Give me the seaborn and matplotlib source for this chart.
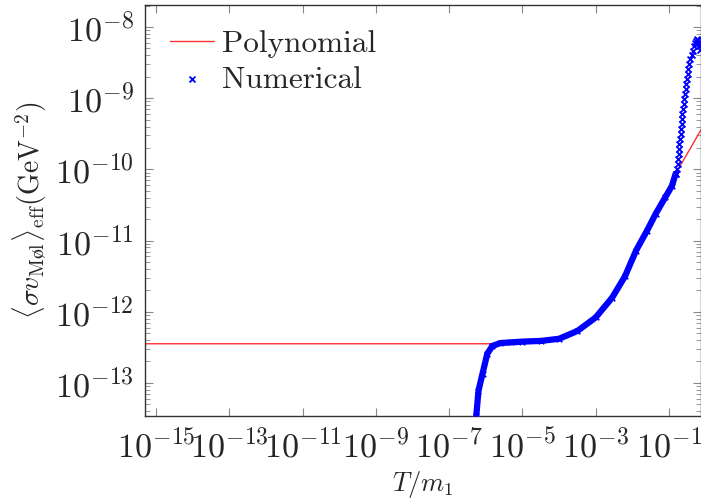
import numpy as np
import pandas as pd
import matplotlib
matplotlib.use('Agg')
import matplotlib.pyplot as plt
import matplotlib.ticker as mticker
import seaborn as sns

# ----------------- data (log10 values) -----------------
poly_logT = [-15.5, -5.8, -5.0, -4.0, -3.5, -3.0, -2.55, -1.9, -1.36, -0.82, -0.1]
poly_logS = [-12.45, -12.45, -12.43, -12.38, -12.27, -12.08, -11.80, -11.14, -10.62, -10.06, -9.42]

# dense part of the numerical points (they merge into a thick band)
num_logT = [-6.32, -6.26, -6.20, -6.09, -5.96, -5.82, -5.60, -5.30, -5.00, -4.50,
            -4.00, -3.50, -3.00, -2.55, -2.20, -1.90, -1.60, -1.36, -1.10, -0.92,
            -0.82]
num_logS = [-13.70, -13.46, -13.11, -12.87, -12.59, -12.48, -12.44, -12.43, -12.42, -12.41,
            -12.38, -12.27, -12.08, -11.80, -11.50, -11.14, -10.86, -10.62, -10.39, -10.23,
            -10.06]

# steep part, where single crosses can be told apart
steep_logT = [-0.80, -0.78, -0.765, -0.75, -0.74, -0.73, -0.715, -0.70, -0.685, -0.67,
              -0.66, -0.645, -0.635, -0.62, -0.605, -0.59, -0.57, -0.55, -0.53, -0.51,
              -0.49, -0.47, -0.445, -0.42, -0.385, -0.355, -0.32, -0.29, -0.265, -0.24,
              -0.22, -0.20, -0.18, -0.16]
steep_logS = [-10.06, -9.99, -9.92, -9.85, -9.78, -9.71, -9.64, -9.57, -9.50, -9.43,
              -9.36, -9.29, -9.22, -9.15, -9.08, -9.01, -8.94, -8.87, -8.80, -8.73,
              -8.66, -8.59, -8.52, -8.45, -8.39, -8.33, -8.27, -8.22, -8.19, -8.17,
              -8.18, -8.22, -8.27, -8.32]

x_tick_exp = [-15, -13, -11, -9, -7, -5, -3, -1]
y_tick_exp = [-13, -12, -11, -10, -9, -8]
# ----------------------------------------------------------------------------

poly = pd.DataFrame({'T': 10.0 ** np.array(poly_logT), 's': 10.0 ** np.array(poly_logS)})
num = pd.DataFrame({'T': 10.0 ** np.array(num_logT), 's': 10.0 ** np.array(num_logS)})
steep = pd.DataFrame({'T': 10.0 ** np.array(steep_logT), 's': 10.0 ** np.array(steep_logS)})

sns.set_style('ticks')
plt.rcParams['font.family'] = ['cmr10', 'DejaVu Serif']
plt.rcParams['mathtext.fontset'] = 'cm'
plt.rcParams['axes.formatter.use_mathtext'] = True
plt.rcParams['font.size'] = 22

fig = plt.figure(figsize=(7.01, 5.01), dpi=100)
ax = fig.add_axes([145 / 701, 1 - 416 / 501, 1 - 145 / 701, 411 / 501])

sns.lineplot(data=poly, x='T', y='s', ax=ax, color='#ff3030', lw=1.0,
             label='Polynomial', sort=False)
# thick band for the overlapping crosses
ax.plot(num['T'], num['s'], color='blue', lw=4.5, zorder=3,
        solid_joinstyle='round', solid_capstyle='round')
sns.scatterplot(data=num, x='T', y='s', ax=ax, marker='x', color='blue',
                s=16, linewidth=1.2, zorder=4, legend=False)
sns.scatterplot(data=steep, x='T', y='s', ax=ax, marker='x', color='blue',
                s=18, linewidth=1.3, label='Numerical', zorder=4)

ax.set_xscale('log')
ax.set_yscale('log')
ax.set_xlim(10 ** -15.30, 10 ** -0.128)
ax.set_ylim(10 ** -13.465, 10 ** -7.69)

# fixed ticks so no label sits outside the axes range
ax.xaxis.set_major_locator(mticker.FixedLocator([10.0 ** k for k in x_tick_exp]))
ax.xaxis.set_minor_locator(mticker.NullLocator())
ax.yaxis.set_major_locator(mticker.FixedLocator([10.0 ** k for k in y_tick_exp]))
ax.yaxis.set_minor_locator(mticker.LogLocator(base=10, subs=np.arange(2, 10), numticks=20))
ax.yaxis.set_minor_formatter(mticker.NullFormatter())
ax.xaxis.set_major_formatter(mticker.LogFormatterSciNotation())
ax.yaxis.set_major_formatter(mticker.LogFormatterSciNotation())

ax.tick_params(which='both', direction='in', top=True, right=True, color='#888888')
ax.tick_params(which='major', length=6, width=0.8, labelsize=24.5)
ax.tick_params(axis='x', which='major', pad=9)
ax.tick_params(axis='y', which='major', pad=8)
ax.tick_params(which='minor', length=3.5, width=0.6)
for sp in ax.spines.values():
    sp.set_color('#333333')
    sp.set_linewidth(1.0)

ax.set_xlabel(r'$T/m_1$', fontsize=19, labelpad=4)
ax.set_ylabel(r'$\langle\sigma v_{\mathrm{M\o l}}\rangle_{\mathrm{eff}}(\mathrm{GeV}^{-2})$',
              fontsize=20, labelpad=4)

leg = ax.legend(loc='upper left', frameon=False, fontsize=22.5, handlelength=1.4,
                handletextpad=0.25, labelspacing=0.25, borderaxespad=0.4,
                bbox_to_anchor=(0.0, 1.0))

fig.savefig('out.png', dpi=100)
